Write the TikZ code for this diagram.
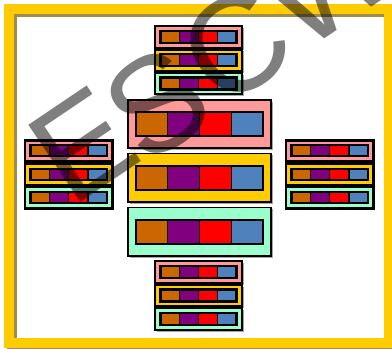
\documentclass[tikz,border=0pt]{standalone}
\usepackage{fontspec}
\newfontfamily\wmfont{Liberation Sans}
\definecolor{pinkc}{HTML}{FF9999}
\definecolor{goldc}{HTML}{FFCC00}
\definecolor{mintc}{HTML}{99FFCC}
\definecolor{orangec}{HTML}{CC6600}
\definecolor{purplec}{HTML}{800080}
\definecolor{redc}{HTML}{FF0000}
\definecolor{bluec}{HTML}{4F81BD}
\definecolor{frameshadow}{HTML}{A08C50}
\tikzset{
  boxline/.style={draw=black, line width=#1},
  boxline/.default=1.8pt,
  shadowfill/.style={fill=black, opacity=0.35},
  cellbox/.style={draw=black, line width=1.4pt},
  watermark/.style={text=black, text opacity=0.5, inner sep=0pt, anchor=base west, rotate=34, font=\wmfont\fontsize{135}{135}\selectfont}
}
% #1 name, #2 x1, #3 y1, #4 x2, #5 y2, #6 fill, #7 inner margin, #8 inner bar height, #9 outer line width
\newcommand\grpbox[9]{%
  \fill[shadowfill] ({#2+1.5},{#3+1.5}) rectangle ({#4+1.5},{#5+1.5});
  \draw[boxline=#9, fill=#6] (#2,#3) rectangle (#4,#5);
  \coordinate (#1) at ({(#2+#4)/2},{(#3+#5)/2});
  \pgfmathsetmacro\gxa{#2+#7}
  \pgfmathsetmacro\gxb{#4-#7}
  \pgfmathsetmacro\gya{(#3+#5)/2-#8/2}
  \pgfmathsetmacro\gyb{(#3+#5)/2+#8/2}
  \pgfmathsetmacro\gw{(\gxb-\gxa)/4}
  \fill[orangec] (\gxa,\gya) rectangle ({\gxa+\gw},\gyb);
  \fill[purplec] ({\gxa+\gw},\gya) rectangle ({\gxa+2*\gw},\gyb);
  \fill[redc] ({\gxa+2*\gw},\gya) rectangle ({\gxa+3*\gw},\gyb);
  \fill[bluec] ({\gxa+3*\gw},\gya) rectangle (\gxb,\gyb);
  \draw[cellbox] ({\gxa+\gw},\gya) -- ({\gxa+\gw},\gyb)
                 ({\gxa+2*\gw},\gya) -- ({\gxa+2*\gw},\gyb)
                 ({\gxa+3*\gw},\gya) -- ({\gxa+3*\gw},\gyb);
  \draw[boxline=#9] (\gxa,\gya) rectangle (\gxb,\gyb);
}
\begin{document}
\begin{tikzpicture}[x=1pt,y=-1pt]
\useasboundingbox (0,0) rectangle (392,349);
\begin{scope}
\clip (0,0) rectangle (392,349);
% frame
\draw[frameshadow, line width=10pt] (11.5,11.5) rectangle (391.5,345);
\draw[goldc, line width=10pt] (9,9) rectangle (389,342.5);
% top stack
\grpbox{t1}{155}{26}{242}{48}{pinkc}{5.5}{12}{2.2pt}
\grpbox{t2}{155}{49.5}{242}{71}{goldc}{5.5}{12}{2.2pt}
\grpbox{t3}{155}{73}{242}{94}{mintc}{5.5}{12}{2.2pt}
% big stack
\grpbox{b1}{128}{100}{271}{148}{pinkc}{8}{24}{1.8pt}
\grpbox{b2}{128}{153.5}{271}{202}{goldc}{8}{24}{1.8pt}
\grpbox{b3}{128}{207.5}{271}{256}{mintc}{8}{24}{1.8pt}
% left stack
\grpbox{l1}{25}{140.5}{112.5}{161}{pinkc}{5.5}{11}{2.2pt}
\grpbox{l2}{25}{163.5}{112.5}{185}{goldc}{5.5}{11}{2.2pt}
\grpbox{l3}{25}{187}{112.5}{208.5}{mintc}{5.5}{11}{2.2pt}
% right stack
\grpbox{r1}{286}{140.5}{373.5}{161}{pinkc}{5.5}{11}{2.2pt}
\grpbox{r2}{286}{163.5}{373.5}{185}{goldc}{5.5}{11}{2.2pt}
\grpbox{r3}{286}{187}{373.5}{208.5}{mintc}{5.5}{11}{2.2pt}
% bottom stack
\grpbox{d1}{155}{261}{242}{283}{pinkc}{5.5}{12}{2.2pt}
\grpbox{d2}{155}{285}{242}{306}{goldc}{5.5}{12}{2.2pt}
\grpbox{d3}{155}{308}{242}{330}{mintc}{5.5}{12}{2.2pt}
% watermark
\node[watermark] (wmE) at (71,209) {E};
\node[watermark] (wmS) at (145,168) {S};
\node[watermark] (wmC) at (221,112) {C};
\node[watermark] (wmW) at (301,55) {W};
\end{scope}
\end{tikzpicture}
\end{document}
